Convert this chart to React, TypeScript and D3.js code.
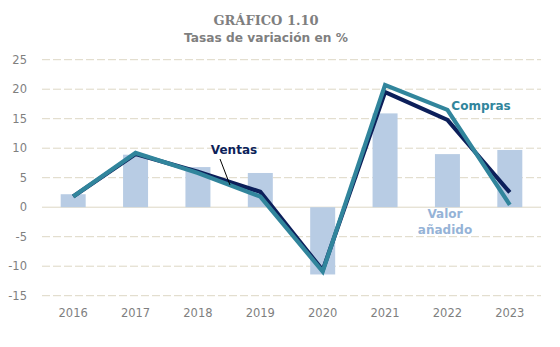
import React from "react";
import * as d3 from "d3";

const years = ["2016", "2017", "2018", "2019", "2020", "2021", "2022", "2023"];
const valorAnadido = [2.2, 8.9, 6.8, 5.8, -11.4, 15.9, 9.0, 9.7];
const ventas = [1.8, 9.0, 6.0, 2.6, -10.7, 19.5, 14.8, 2.5];
const compras = [1.8, 9.2, 5.8, 1.8, -10.9, 20.7, 16.5, 0.4];
const yTicks = [25, 20, 15, 10, 5, 0, -5, -10, -15];

const W = 560;
const H = 347;

export default function App() {
  const x = d3.scaleBand<string>().domain(years).range([42, 541]).paddingInner(0).paddingOuter(0);
  const y = d3.scaleLinear().domain([-15, 25]).range([295.7, 59.7]);
  const bw = 25;
  const cx = (d: string) => (x(d) as number) + x.bandwidth() / 2;
  const line = d3
    .line<number>()
    .x((_, i) => cx(years[i]))
    .y((v) => y(v));
  const grey = "#7f7f7f";
  const font = "'DejaVu Sans', Verdana, sans-serif";
  return (
    <svg width={W} height={H} style={{ position: "absolute", left: 0, top: 0, background: "#fff" }}>
      <text x={266} y={25} textAnchor="middle" fontFamily="'DejaVu Serif', serif" fontWeight="bold" fontSize={13} fill={grey}>
        GRÁFICO 1.10
      </text>
      <text x={266} y={42} textAnchor="middle" fontFamily={font} fontWeight="bold" fontSize={12.2} fill={grey}>
        Tasas de variación en %
      </text>
      {yTicks.map((t) => (
        <g key={t}>
          <line
            x1={42}
            x2={541}
            y1={y(t)}
            y2={y(t)}
            stroke="#ddd7c4"
            strokeWidth={1}
            strokeDasharray={t === 0 ? undefined : "8,3"}
          />
          <text x={27} y={y(t) + 4} textAnchor="end" fontFamily={font} fontSize={11.5} fill={grey}>
            {t}
          </text>
        </g>
      ))}
      {years.map((yr, i) => {
        const v = valorAnadido[i];
        return (
          <rect
            key={yr}
            x={cx(yr) - bw / 2}
            width={bw}
            y={Math.min(y(v), y(0))}
            height={Math.abs(y(v) - y(0))}
            fill="#b8cce4"
          />
        );
      })}
      {years.map((yr) => (
        <text key={yr} x={cx(yr)} y={317} textAnchor="middle" fontFamily={font} fontSize={11.5} fill={grey}>
          {yr}
        </text>
      ))}
      <path d={line(ventas) || ""} fill="none" stroke="#0c1f5a" strokeWidth={4.2} strokeLinejoin="miter" />
      <path d={line(compras) || ""} fill="none" stroke="#31859c" strokeWidth={4.2} strokeLinejoin="miter" />
      <line x1={220} y1={159} x2={230} y2={185} stroke="#000" strokeWidth={1} />
      <text x={234} y={154} textAnchor="middle" fontFamily={font} fontWeight="bold" fontSize={12} fill="#0c1f5a">
        Ventas
      </text>
      <text x={481} y={110} textAnchor="middle" fontFamily={font} fontWeight="bold" fontSize={12} fill="#31859c">
        Compras
      </text>
      <text x={445} y={218} textAnchor="middle" fontFamily={font} fontWeight="bold" fontSize={12} fill="#95b3d7">
        Valor
      </text>
      <text x={445} y={234} textAnchor="middle" fontFamily={font} fontWeight="bold" fontSize={12} fill="#95b3d7">
        añadido
      </text>
    </svg>
  );
}
